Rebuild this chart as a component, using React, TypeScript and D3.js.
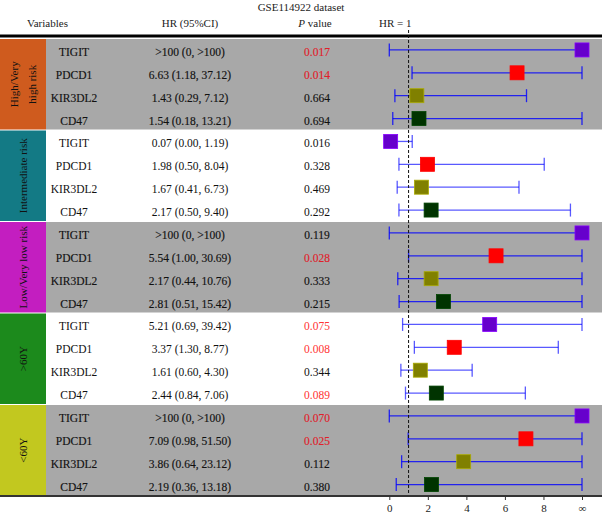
import { useEffect, useRef } from "react";
import * as d3 from "d3";

const groups = ["High/Very high risk", "Intermediate risk", "Low/Very low risk", ">60Y", "<60Y"];
const groupLines = [["High/Very", "high risk"], ["Intermediate risk"], ["Low/Very low risk"], [">60Y"], ["<60Y"]];
const groupColors = ["#CF5B1E", "#137A85", "#C31EC0", "#1C8A1C", "#C2C81F"];
const genes = ["TIGIT", "PDCD1", "KIR3DL2", "CD47"];
const geneColors = ["#6600CC", "#FF0000", "#808000", "#003300"];

// one row per group x gene, Infinity = ">100"
const hrText = [
  ">100 (0, >100)", "6.63 (1.18, 37.12)", "1.43 (0.29, 7.12)", "1.54 (0.18, 13.21)",
  "0.07 (0.00, 1.19)", "1.98 (0.50, 8.04)", "1.67 (0.41, 6.73)", "2.17 (0.50, 9.40)",
  ">100 (0, >100)", "5.54 (1.00, 30.69)", "2.17 (0.44, 10.76)", "2.81 (0.51, 15.42)",
  "5.21 (0.69, 39.42)", "3.37 (1.30, 8.77)", "1.61 (0.60, 4.30)", "2.44 (0.84, 7.06)",
  ">100 (0, >100)", "7.09 (0.98, 51.50)", "3.86 (0.64, 23.12)", "2.19 (0.36, 13.18)"
];
const hr = [Infinity, 6.63, 1.43, 1.54, 0.07, 1.98, 1.67, 2.17, Infinity, 5.54, 2.17, 2.81, 5.21, 3.37, 1.61, 2.44, Infinity, 7.09, 3.86, 2.19];
const lower = [0, 1.18, 0.29, 0.18, 0.0, 0.5, 0.41, 0.5, 0, 1.0, 0.44, 0.51, 0.69, 1.3, 0.6, 0.84, 0, 0.98, 0.64, 0.36];
const upper = [Infinity, 37.12, 7.12, 13.21, 1.19, 8.04, 6.73, 9.4, Infinity, 30.69, 10.76, 15.42, 39.42, 8.77, 4.3, 7.06, Infinity, 51.5, 23.12, 13.18];
const pValues = ["0.017", "0.014", "0.664", "0.694", "0.016", "0.328", "0.469", "0.292", "0.119", "0.028", "0.333", "0.215", "0.075", "0.008", "0.344", "0.089", "0.070", "0.025", "0.112", "0.380"];
const pRed = [1, 1, 0, 0, 0, 0, 0, 0, 0, 1, 0, 0, 1, 1, 0, 1, 1, 1, 0, 0];
const xTicks = [0, 2, 4, 6, 8, 10];

const width = 602;
const height = 515;

const App = () => {
  const svgRef = useRef<SVGSVGElement>(null);

  useEffect(() => {
    const svg = d3.select(svgRef.current);
    svg.selectAll("*").remove();
    const font = "'Liberation Serif', 'DejaVu Serif', serif";

    const top = 38.5;
    const bottom = 496;
    const rows = d3.range(hr.length);
    const y = d3.scaleBand<number>().domain(rows).range([top, bottom]);
    const x = d3.scaleLinear().domain([0, 10]).range([389.3, 582]).clamp(true);
    const blockW = 46;
    const groupH = y.bandwidth() * genes.length;

    // row backgrounds + group blocks
    groups.forEach((g, gi) => {
      const gy = top + gi * groupH;
      if (gi % 2 === 0) {
        svg.append("rect").attr("x", blockW).attr("y", gy + 0.5).attr("width", width - blockW)
          .attr("height", groupH - 1).attr("fill", "#A8A8A8");
      }
      svg.append("rect").attr("x", 0).attr("y", gy + 0.5).attr("width", blockW)
        .attr("height", groupH - 1).attr("fill", groupColors[gi]);
      const lines = groupLines[gi];
      const cy = gy + groupH / 2;
      lines.forEach((l, li) => {
        const cx = blockW / 2 + (li - (lines.length - 1) / 2) * 18;
        svg.append("text").attr("transform", `translate(${cx + 4},${cy}) rotate(-90)`)
          .attr("text-anchor", "middle").attr("font-family", font).attr("font-size", 11)
          .attr("fill", "#111").text(l);
      });
    });

    // header
    svg.append("text").attr("x", 301).attr("y", 11).attr("text-anchor", "middle")
      .attr("font-family", font).attr("font-size", 11).attr("fill", "#222").text("GSE114922 dataset");
    const hy = 27;
    svg.append("text").attr("x", 27).attr("y", hy).attr("font-family", font).attr("font-size", 11)
      .attr("fill", "#222").text("Variables");
    svg.append("text").attr("x", 190).attr("y", hy).attr("text-anchor", "middle").attr("font-family", font)
      .attr("font-size", 11).attr("fill", "#222").text("HR (95%CI)");
    const pt = svg.append("text").attr("x", 315).attr("y", hy).attr("text-anchor", "middle")
      .attr("font-family", font).attr("font-size", 11).attr("fill", "#222");
    pt.append("tspan").attr("font-style", "italic").text("P");
    pt.append("tspan").text(" value");
    svg.append("text").attr("x", x(1) + 3).attr("y", hy).attr("text-anchor", "end").attr("font-family", font)
      .attr("font-size", 11).attr("fill", "#222").text("HR = 1");

    svg.append("line").attr("x1", 0).attr("x2", width).attr("y1", 36).attr("y2", 36)
      .attr("stroke", "#000").attr("stroke-width", 3);

    // table text
    const shaded = (i: number) => Math.floor(i / genes.length) % 2 === 0;
    rows.forEach(i => {
      const ty = (y(i) as number) + y.bandwidth() / 2 + 6;
      const bold = shaded(i) ? 0.15 : 0;
      const addText = (tx: number, s: string, fill: string) =>
        svg.append("text").attr("x", tx).attr("y", ty).attr("text-anchor", "middle")
          .attr("font-family", font).attr("font-size", 11.5).attr("fill", fill)
          .attr("stroke", fill).attr("stroke-width", bold).text(s);
      addText(74, genes[i % genes.length], "#111");
      addText(190, hrText[i], "#111");
      addText(317, pValues[i], pRed[i] ? (shaded(i) ? "#E0202A" : "#FF3333") : "#111");
    });

    // CI lines
    const blue = "#0000FF";
    rows.forEach(i => {
      const cy = (y(i) as number) + y.bandwidth() / 2;
      const op = shaded(i) ? 0.8 : 0.65;
      const g = svg.append("g").attr("stroke", blue).attr("stroke-opacity", op).attr("stroke-width", 1.3);
      g.append("line").attr("x1", x(lower[i])).attr("x2", x(upper[i])).attr("y1", cy).attr("y2", cy);
      [lower[i], upper[i]].forEach(v => {
        g.append("line").attr("x1", x(v)).attr("x2", x(v)).attr("y1", cy - 6.5).attr("y2", cy + 6.5);
      });
    });

    // HR = 1 reference
    svg.append("line").attr("x1", x(1)).attr("x2", x(1)).attr("y1", 30).attr("y2", bottom)
      .attr("stroke", "#111").attr("stroke-width", 1).attr("stroke-dasharray", "3,2");

    // squares
    const s = 14;
    rows.forEach(i => {
      const cy = (y(i) as number) + y.bandwidth() / 2;
      const c = geneColors[i % genes.length];
      svg.append("rect").attr("x", x(hr[i]) - s / 2).attr("y", cy - s / 2).attr("width", s).attr("height", s)
        .attr("fill", c).attr("stroke", d3.color(c)!.brighter(0.8).formatHex()).attr("stroke-width", 0.8);
    });

    // bottom axis
    svg.append("line").attr("x1", 0).attr("x2", width).attr("y1", bottom).attr("y2", bottom)
      .attr("stroke", "#333").attr("stroke-width", 2);
    const axis = d3.axisBottom(x).tickValues(xTicks).tickSize(4).tickPadding(4)
      .tickFormat(d => (+d === 10 ? "∞" : String(d)));
    const ag = svg.append("g").attr("transform", `translate(0,${bottom})`).call(axis);
    ag.select(".domain").remove();
    ag.selectAll("line").attr("stroke", "#333");
    ag.selectAll("text").attr("font-family", font).attr("font-size", 11).attr("fill", "#222");
  }, []);

  return (
    <svg ref={svgRef} width={width} height={height}
      style={{ position: "absolute", left: 0, top: 0, background: "#fff" }} />
  );
};

export default App;
